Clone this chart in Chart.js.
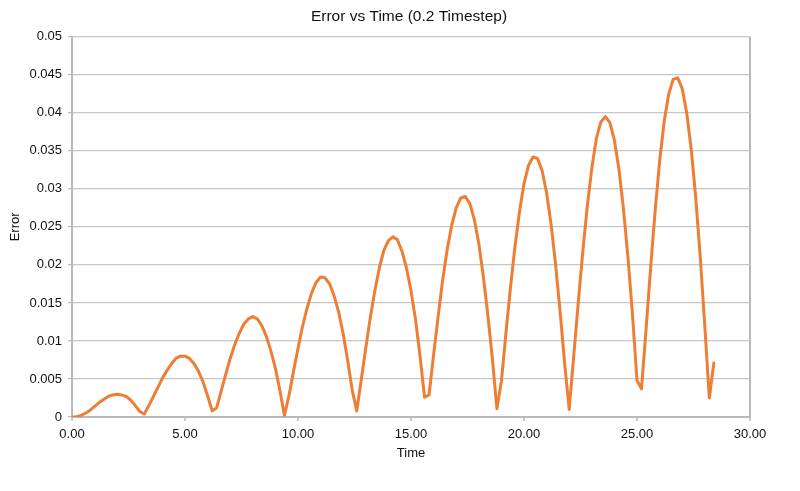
<!DOCTYPE html>
<html>
<head>
<meta charset="utf-8">
<script src="https://cdn.jsdelivr.net/npm/chart.js@4/dist/chart.umd.min.js"></script>
<style>
  html, body { margin: 0; padding: 0; background: #ffffff; }
  #wrap { width: 800px; height: 491px; }
</style>
</head>
<body>
<div id="wrap"><canvas id="c" width="800" height="491"></canvas></div>
<script>
// ---- data ----
const chartTitle = 'Error vs Time (0.2 Timestep)';
const xTitle = 'Time';
const yTitle = 'Error';

const times = [
  0, 0.2, 0.4, 0.6, 0.8, 1, 1.2, 1.4, 1.6, 1.8,
  2, 2.2, 2.4, 2.6, 2.8, 3, 3.2, 3.4, 3.6, 3.8,
  4, 4.2, 4.4, 4.6, 4.8, 5, 5.2, 5.4, 5.6, 5.8,
  6, 6.2, 6.4, 6.6, 6.8, 7, 7.2, 7.4, 7.6, 7.8,
  8, 8.2, 8.4, 8.6, 8.8, 9, 9.2, 9.4, 9.6, 9.8,
  10, 10.2, 10.4, 10.6, 10.8, 11, 11.2, 11.4, 11.6, 11.8,
  12, 12.2, 12.4, 12.6, 12.8, 13, 13.2, 13.4, 13.6, 13.8,
  14, 14.2, 14.4, 14.6, 14.8, 15, 15.2, 15.4, 15.6, 15.8,
  16, 16.2, 16.4, 16.6, 16.8, 17, 17.2, 17.4, 17.6, 17.8,
  18, 18.2, 18.4, 18.6, 18.8, 19, 19.2, 19.4, 19.6, 19.8,
  20, 20.2, 20.4, 20.6, 20.8, 21, 21.2, 21.4, 21.6, 21.8,
  22, 22.2, 22.4, 22.6, 22.8, 23, 23.2, 23.4, 23.6, 23.8,
  24, 24.2, 24.4, 24.6, 24.8, 25, 25.2, 25.4, 25.6, 25.8,
  26, 26.2, 26.4, 26.6, 26.8, 27, 27.2, 27.4, 27.6, 27.8,
  28, 28.2, 28.4
];

const errors = [
  0, 0.00005, 0.0002, 0.0005, 0.0009, 0.0014, 0.0019, 0.0023, 0.0027, 0.0029,
  0.0030, 0.0029, 0.0027, 0.0022, 0.0015, 0.0007, 0.0004, 0.0015, 0.0027, 0.0039,
  0.0051, 0.0061, 0.0070, 0.0077, 0.0080, 0.0080, 0.0077, 0.0070, 0.0060, 0.0046,
  0.0028, 0.0008, 0.0012, 0.0034, 0.0056, 0.0077, 0.0095, 0.0110, 0.0122, 0.0129,
  0.0132, 0.0129, 0.0120, 0.0106, 0.0087, 0.0064, 0.0035, 0.0002, 0.0028, 0.0060,
  0.0090, 0.0119, 0.0143, 0.0163, 0.0177, 0.0184, 0.0183, 0.0175, 0.0159, 0.0138,
  0.0109, 0.0074, 0.0035, 0.0008, 0.0049, 0.0091, 0.0131, 0.0166, 0.0196, 0.0219,
  0.0232, 0.0237, 0.0233, 0.0218, 0.0196, 0.0166, 0.0128, 0.0080, 0.0026, 0.0029,
  0.0082, 0.0132, 0.0180, 0.0220, 0.0252, 0.0275, 0.0288, 0.0290, 0.0281, 0.0260,
  0.0228, 0.0185, 0.0134, 0.0077, 0.0011, 0.0047, 0.0110, 0.0170, 0.0224, 0.0270,
  0.0307, 0.0331, 0.0342, 0.0340, 0.0324, 0.0295, 0.0253, 0.0200, 0.0138, 0.0070,
  0.0010, 0.0080, 0.0150, 0.0217, 0.0277, 0.0327, 0.0366, 0.0388, 0.0395, 0.0387,
  0.0364, 0.0326, 0.0274, 0.0210, 0.0135, 0.0048, 0.0037, 0.0115, 0.0195, 0.0270,
  0.0336, 0.0388, 0.0424, 0.0444, 0.0446, 0.0432, 0.0400, 0.0352, 0.0288, 0.0210,
  0.0120, 0.0025, 0.0071
];

const xMin = 0, xMax = 30, xStep = 5;
const yMin = 0, yMax = 0.05, yStep = 0.005;

// ---- chart ----
Chart.defaults.font.family = "'Liberation Sans', Arial, Helvetica, sans-serif";
Chart.defaults.color = '#222222';

const points = times.map((t, i) => ({ x: t, y: errors[i] }));
const axisGray = '#b8b8b8';
const gridGray = '#c6c6c6';

new Chart(document.getElementById('c'), {
  type: 'line',
  data: {
    datasets: [{
      label: yTitle,
      data: points,
      xAxisID: 'x',
      yAxisID: 'y',
      borderColor: '#EE7D35',
      backgroundColor: '#EE7D35',
      borderWidth: 3,
      pointRadius: 0,
      tension: 0,
      borderJoinStyle: 'round',
      borderCapStyle: 'round',
      fill: false
    }]
  },
  options: {
    responsive: false,
    animation: false,
    layout: { padding: { left: 18, right: 0, top: 0, bottom: 0 } },
    plugins: {
      legend: { display: false },
      tooltip: { enabled: false },
      title: {
        display: true,
        text: chartTitle,
        color: '#111111',
        font: { size: 15.5, weight: 'normal' },
        padding: { top: 7.7, bottom: 10.5 }
      }
    },
    scales: {
      x: {
        type: 'linear',
        min: xMin,
        max: xMax,
        afterFit: (s) => { s.height = 74; },
        ticks: {
          stepSize: xStep,
          padding: 6,
          font: { size: 13 },
          color: '#111111',
          maxRotation: 0,
          callback: (v) => Number(v).toFixed(2)
        },
        grid: {
          drawOnChartArea: true,
          color: (ctx) => (ctx.tick && ctx.tick.value === xMax) ? axisGray : 'rgba(0,0,0,0)',
          lineWidth: 2,
          tickLength: 4,
          tickColor: axisGray,
          tickWidth: 1.5
        },
        border: { display: true, color: axisGray, width: 2 },
        title: {
          display: true,
          text: xTitle,
          color: '#111111',
          font: { size: 13 },
          padding: { top: 0, bottom: 30 }
        }
      },
      y: {
        type: 'linear',
        position: 'left',
        min: yMin,
        max: yMax,
        afterFit: (s) => { s.width = 54; },
        ticks: {
          stepSize: yStep,
          padding: 6,
          font: { size: 13 },
          color: '#111111',
          callback: (v) => String(parseFloat(Number(v).toFixed(3)))
        },
        grid: {
          color: gridGray,
          lineWidth: 1.2,
          tickLength: 4,
          tickColor: axisGray,
          tickWidth: 1.2
        },
        border: { display: true, color: axisGray, width: 2 },
        title: {
          display: true,
          text: yTitle,
          color: '#111111',
          font: { size: 13 },
          padding: { top: -10, bottom: 0 }
        }
      },
      yR: {
        type: 'linear',
        position: 'right',
        min: yMin,
        max: yMax,
        display: true,
        afterFit: (s) => { s.width = 50; },
        ticks: { display: false },
        grid: { display: false, drawOnChartArea: false },
        border: { display: false },
        title: { display: false }
      }
    }
  }
});
</script>
</body>
</html>
